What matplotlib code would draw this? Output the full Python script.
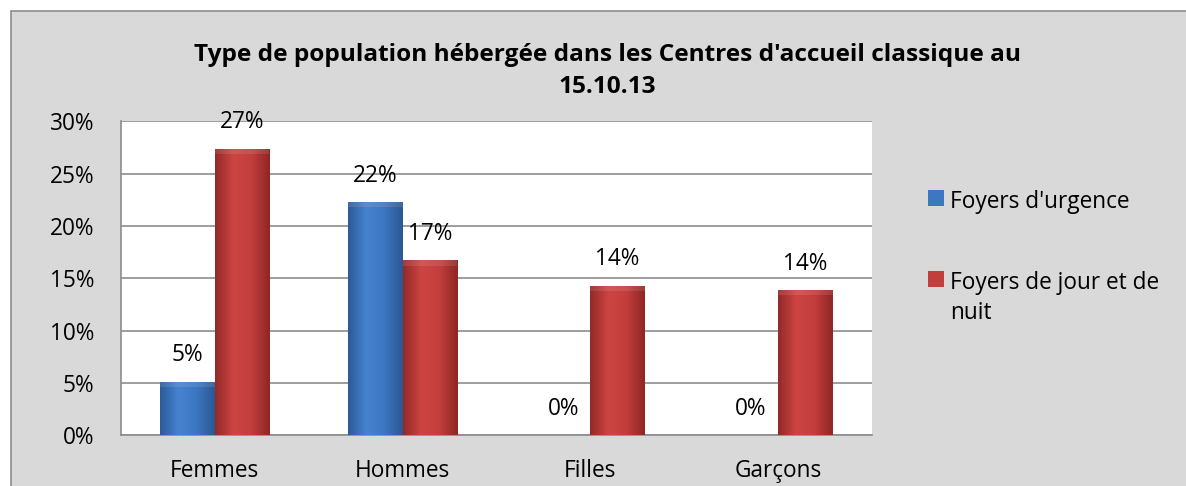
import matplotlib
matplotlib.use('Agg')
import matplotlib.pyplot as plt
import numpy as np
from matplotlib.patches import Rectangle
from matplotlib.colors import LinearSegmentedColormap

categories = ['Femmes', 'Hommes', 'Filles', 'Garçons']
urgence = [5.1, 22.3, 0.0, 0.0]
jour_nuit = [27.4, 16.7, 14.3, 13.85]
urgence_labels = ['5%', '22%', '0%', '0%']
jour_nuit_labels = ['27%', '17%', '14%', '14%']
series_names = ["Foyers d'urgence", 'Foyers de jour et de\nnuit']
title = "Type de population hébergée dans les Centres d'accueil classique au\n15.10.13"

plt.rcParams['font.family'] = ['Open Sans', 'DejaVu Sans']
FS = 16.3

W, H = 1186, 486
fig = plt.figure(figsize=(W / 100, H / 100), dpi=100)
fig.patch.set_facecolor('white')

# outer chart area (grey, border only on top/left visible)
fig.patches.append(Rectangle((11 / W, -0.1), 1.2, 1 - 11 / H + 0.1, transform=fig.transFigure,
                             facecolor='#d9d9d9', edgecolor='#8c8c8c', linewidth=1.2, zorder=-5))

ax = fig.add_axes([121 / W, 1 - 435 / H, (872 - 121) / W, (435 - 121.5) / H])
ax.set_facecolor('white')
ax.set_zorder(1)

x = np.arange(len(categories))
width = 0.29

blue_cmap = LinearSegmentedColormap.from_list('b', ['#2c5b98', '#4683cf', '#3d77c2', '#2a5893'])
red_cmap = LinearSegmentedColormap.from_list('r', ['#932a28', '#cc4543', '#c23e3c', '#8e2725'])


def gradient_bars(bars, cmap):
    grad = np.linspace(0, 1, 64).reshape(1, -1)
    for b in bars:
        h = b.get_height()
        if h <= 0:
            continue
        x0, w = b.get_x(), b.get_width()
        im = ax.imshow(grad, cmap=cmap, aspect='auto', extent=[x0, x0 + w, 0, h], zorder=3)
        im.set_clip_path(b)
        # soft bevel at the top
        ax.add_patch(Rectangle((x0, h - 0.5), w, 0.5, facecolor='white', alpha=0.1,
                               edgecolor='none', zorder=4))


b1 = ax.bar(x - width / 2, urgence, width, color='#3d77c2', edgecolor='none', zorder=2,
            label=series_names[0])
b2 = ax.bar(x + width / 2, jour_nuit, width, color='#c23e3c', edgecolor='none', zorder=2,
            label=series_names[1])
gradient_bars(b1, blue_cmap)
gradient_bars(b2, red_cmap)

for bars, labels in ((b1, urgence_labels), (b2, jour_nuit_labels)):
    for b, lab in zip(bars, labels):
        ax.annotate(lab, (b.get_x() + b.get_width() / 2, b.get_height()),
                    xytext=(0, 19), textcoords='offset points', ha='center', va='center',
                    fontsize=FS, color='black', zorder=5, annotation_clip=False)

ax.set_xlim(-0.5, len(categories) - 0.5)
ax.set_ylim(0, 30)
ax.set_yticks(range(0, 31, 5))
ax.set_yticklabels([f'{v}%' for v in range(0, 31, 5)])
ax.set_xticks(x)
ax.set_xticklabels(categories)
ax.tick_params(axis='both', length=0, labelsize=FS, colors='black')
ax.tick_params(axis='y', pad=19)
ax.tick_params(axis='x', pad=17)
ax.yaxis.grid(True, color='#8c8c8c', linewidth=1.2, zorder=0)
ax.set_axisbelow(True)
for s in ('top', 'right'):
    ax.spines[s].set_visible(False)
for s in ('left', 'bottom'):
    ax.spines[s].set_color('#8c8c8c')
    ax.spines[s].set_linewidth(1.2)

fig.text(607 / W, 1 - 71 / H, title, ha='center', va='center', fontsize=17.6,
         fontweight='bold', linespacing=1.45)

leg = fig.legend(handles=[b1, b2], labels=series_names, loc='upper left',
                 bbox_to_anchor=(908 / W, 1 - 170 / H), frameon=False, fontsize=FS,
                 handlelength=0.7, handleheight=0.7, handletextpad=0.25, labelspacing=2.5)
for t in leg.get_texts():
    t.set_linespacing(1.33)
# put the marker next to the first line of a wrapped label
for col in leg._legend_handle_box.get_children():
    for row in col.get_children():
        row.align = 'top'

fig.savefig('out.png', dpi=100)
